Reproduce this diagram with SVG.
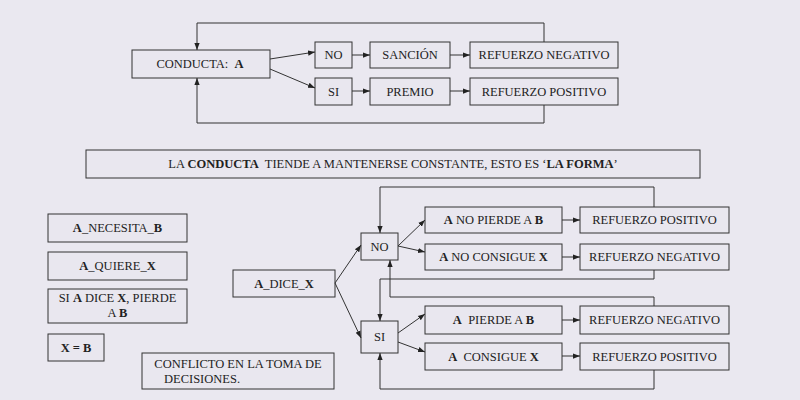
<svg xmlns="http://www.w3.org/2000/svg" width="800" height="400" viewBox="0 0 800 400">
<style>
rect.b{fill:#e9e7ef;stroke:#333;stroke-width:1}
text{font-family:'Liberation Serif','DejaVu Serif',serif;font-size:12.5px;fill:#222;text-anchor:middle;dominant-baseline:central;white-space:pre}
.c path,.c line{fill:none;stroke:#333;stroke-width:1}
</style>
<defs><marker id="ar" viewBox="0 0 8 8" refX="8" refY="4" markerWidth="7" markerHeight="7" orient="auto"><path d="M0,1L8,4L0,7z" fill="#222"/></marker></defs>
<rect width="800" height="400" fill="#eae8f0"/>
<g id="n-conducta"><rect class="b" x="132" y="50" width="138" height="28"/><text x="200" y="64">CONDUCTA:  <tspan font-weight="bold">A</tspan></text></g>
<g id="n-no1"><rect class="b" x="315" y="42" width="37" height="26"/><text x="333.5" y="55">NO</text></g>
<g id="n-si1"><rect class="b" x="315" y="78" width="37" height="27"/><text x="333.5" y="91.5">SI</text></g>
<g id="n-sancion"><rect class="b" x="370" y="42" width="80" height="26"/><text x="410" y="55">SANCIÓN</text></g>
<g id="n-premio"><rect class="b" x="370" y="78" width="80" height="27"/><text x="410" y="91.5">PREMIO</text></g>
<g id="n-refneg1"><rect class="b" x="470" y="42" width="148" height="26"/><text x="544" y="55">REFUERZO NEGATIVO</text></g>
<g id="n-refpos1"><rect class="b" x="470" y="78" width="148" height="27"/><text x="544" y="91.5">REFUERZO POSITIVO</text></g>
<g id="n-banner"><rect class="b" x="86" y="150" width="614" height="28"/><text x="393" y="164">LA <tspan font-weight="bold">CONDUCTA</tspan>  TIENDE A MANTENERSE CONSTANTE, ESTO ES ‘<tspan font-weight="bold">LA FORMA</tspan>’</text></g>
<g id="n-necesita"><rect class="b" x="48" y="214" width="139" height="28"/><text x="117.5" y="228" font-weight="bold">A<tspan font-weight="normal">_NECESITA_</tspan>B</text></g>
<g id="n-quiere"><rect class="b" x="48" y="252" width="139" height="28"/><text x="117.5" y="266" font-weight="bold">A<tspan font-weight="normal">_QUIERE_</tspan>X</text></g>
<g id="n-sidice"><rect class="b" x="48" y="289" width="139" height="34"/><text x="117.5" y="298">SI <tspan font-weight="bold">A</tspan> DICE <tspan font-weight="bold">X</tspan>, PIERDE</text><text x="117.5" y="313">A <tspan font-weight="bold">B</tspan></text></g>
<g id="n-xb"><rect class="b" x="48" y="334" width="56" height="27"/><text x="76" y="347.5" font-weight="bold">X = B</text></g>
<g id="n-conflicto"><rect class="b" x="142" y="353" width="192" height="36"/><text x="238" y="364">CONFLICTO EN LA TOMA DE</text><text x="202" y="379">DECISIONES.</text></g>
<g id="n-dice"><rect class="b" x="233" y="270" width="102" height="27"/><text x="284" y="283.5" font-weight="bold">A<tspan font-weight="normal">_DICE_</tspan>X</text></g>
<g id="n-no2"><rect class="b" x="361" y="233" width="37" height="27"/><text x="379.5" y="246.5">NO</text></g>
<g id="n-si2"><rect class="b" x="361" y="321" width="37" height="32"/><text x="379.5" y="337">SI</text></g>
<g id="n-nopierde"><rect class="b" x="425" y="207" width="137" height="26"/><text x="493.5" y="220"><tspan font-weight="bold">A</tspan> NO PIERDE A <tspan font-weight="bold">B</tspan></text></g>
<g id="n-noconsigue"><rect class="b" x="425" y="244" width="137" height="26"/><text x="493.5" y="257"><tspan font-weight="bold">A</tspan> NO CONSIGUE <tspan font-weight="bold">X</tspan></text></g>
<g id="n-pierde"><rect class="b" x="425" y="306" width="137" height="28"/><text x="493.5" y="320"><tspan font-weight="bold">A</tspan>  PIERDE A <tspan font-weight="bold">B</tspan></text></g>
<g id="n-consigue"><rect class="b" x="425" y="343" width="137" height="27"/><text x="493.5" y="356.5"><tspan font-weight="bold">A</tspan>  CONSIGUE <tspan font-weight="bold">X</tspan></text></g>
<g id="n-refpos2"><rect class="b" x="580" y="207" width="149" height="26"/><text x="654.5" y="220">REFUERZO POSITIVO</text></g>
<g id="n-refneg2"><rect class="b" x="580" y="244" width="149" height="26"/><text x="654.5" y="257">REFUERZO NEGATIVO</text></g>
<g id="n-refneg3"><rect class="b" x="580" y="306" width="149" height="28"/><text x="654.5" y="320">REFUERZO NEGATIVO</text></g>
<g id="n-refpos3"><rect class="b" x="580" y="343" width="149" height="27"/><text x="654.5" y="356.5">REFUERZO POSITIVO</text></g>
<g class="c" id="connectors">
<line x1="270" y1="59" x2="315" y2="52" marker-end="url(#ar)"/>
<line x1="270" y1="69" x2="315" y2="88" marker-end="url(#ar)"/>
<line x1="352" y1="55" x2="370" y2="55" marker-end="url(#ar)"/>
<line x1="352" y1="91" x2="370" y2="91" marker-end="url(#ar)"/>
<line x1="450" y1="55" x2="470" y2="55" marker-end="url(#ar)"/>
<line x1="450" y1="91" x2="470" y2="91" marker-end="url(#ar)"/>
<path d="M544,42V23H197V50" marker-end="url(#ar)"/>
<path d="M544,105V123H197V78" marker-end="url(#ar)"/>
<line x1="335" y1="283" x2="361" y2="245" marker-end="url(#ar)"/>
<line x1="335" y1="283" x2="361" y2="338" marker-end="url(#ar)"/>
<line x1="398" y1="246" x2="425" y2="220" marker-end="url(#ar)"/>
<line x1="398" y1="246" x2="425" y2="252" marker-end="url(#ar)"/>
<line x1="398" y1="333" x2="425" y2="314" marker-end="url(#ar)"/>
<line x1="398" y1="342" x2="425" y2="352" marker-end="url(#ar)"/>
<line x1="562" y1="220" x2="580" y2="220" marker-end="url(#ar)"/>
<line x1="562" y1="257" x2="580" y2="257" marker-end="url(#ar)"/>
<line x1="562" y1="320" x2="580" y2="320" marker-end="url(#ar)"/>
<line x1="562" y1="356" x2="580" y2="356" marker-end="url(#ar)"/>
<path d="M654,207V187H380V233" marker-end="url(#ar)"/>
<path d="M654,270V279H380V321" marker-end="url(#ar)"/>
<path d="M654,306V297H390V260" marker-end="url(#ar)"/>
<path d="M654,370V389H380V353" marker-end="url(#ar)"/>
</g>
</svg>
